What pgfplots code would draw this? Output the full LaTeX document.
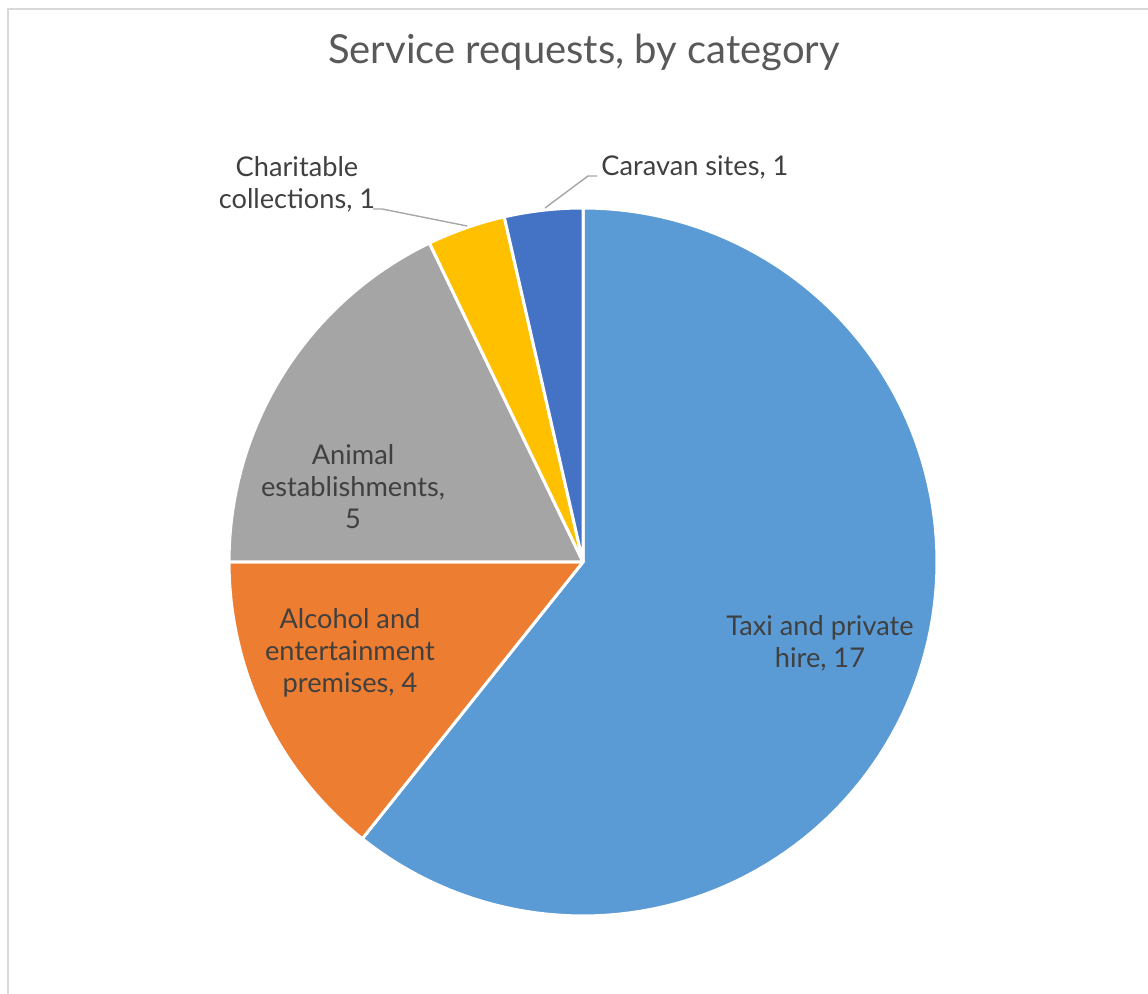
\documentclass[border=0pt]{standalone}
\usepackage{pgfplots}
\pgfplotsset{compat=1.18}
\usepackage{fontspec}
\setmainfont{Lato}
\newfontfamily\labfont{Lato}
\definecolor{cTaxi}{HTML}{5B9BD5}
\definecolor{cAlc}{HTML}{ED7D31}
\definecolor{cAni}{HTML}{A5A5A5}
\definecolor{cCha}{HTML}{FFC000}
\definecolor{cCar}{HTML}{4472C4}
\definecolor{cTitle}{HTML}{595959}
\definecolor{cLab}{HTML}{404040}
\definecolor{cFrame}{HTML}{D9D9D9}
\definecolor{cLead}{HTML}{A6A6A6}
% data
\def\vTaxi{17}
\def\vAlc{4}
\def\vAni{5}
\def\vCha{1}
\def\vCar{1}
\pgfmathsetmacro{\tot}{\vTaxi+\vAlc+\vAni+\vCha+\vCar}
\pgfmathsetmacro{\aA}{90}
\pgfmathsetmacro{\aB}{\aA-360*\vTaxi/\tot}
\pgfmathsetmacro{\aC}{\aB-360*\vAlc/\tot}
\pgfmathsetmacro{\aD}{\aC-360*\vAni/\tot}
\pgfmathsetmacro{\aE}{\aD-360*\vCha/\tot}
\pgfmathsetmacro{\aF}{\aE-360*\vCar/\tot}
\tikzset{lab/.style={text=cLab, font=\labfont\fontsize{13.6}{16}\selectfont, align=center, inner sep=0pt}}
\begin{document}%
\begin{tikzpicture}
\begin{axis}[
  scale only axis, width=574pt, height=497pt,
  xmin=0, xmax=1148, ymin=0, ymax=994,
  hide axis, clip=false,
]
\coordinate (bl) at (axis cs:0,0);
\coordinate (tr) at (axis cs:1148,994);
% frame
\addplot[cFrame, line width=1pt] coordinates {(8,0) (8,985) (1148,985)};
% slices
\addplot[fill=cTaxi, draw=white, line width=1.5pt, line join=round, domain=\aB:\aA, samples=120, variable=\t]
  ({583+354*cos(\t)},{432+354*sin(\t)}) -- (583,432) -- cycle;
\addplot[fill=cAlc, draw=white, line width=1.5pt, line join=round, domain=\aC:\aB, samples=40, variable=\t]
  ({583+354*cos(\t)},{432+354*sin(\t)}) -- (583,432) -- cycle;
\addplot[fill=cAni, draw=white, line width=1.5pt, line join=round, domain=\aD:\aC, samples=40, variable=\t]
  ({583+354*cos(\t)},{432+354*sin(\t)}) -- (583,432) -- cycle;
\addplot[fill=cCha, draw=white, line width=1.5pt, line join=round, domain=\aE:\aD, samples=20, variable=\t]
  ({583+354*cos(\t)},{432+354*sin(\t)}) -- (583,432) -- cycle;
\addplot[fill=cCar, draw=white, line width=1.5pt, line join=round, domain=\aF:\aE, samples=20, variable=\t]
  ({583+354*cos(\t)},{432+354*sin(\t)}) -- (583,432) -- cycle;
% leader lines
\addplot[cLead, line width=0.7pt] coordinates {(373,785) (382,785) (467,768)};
\addplot[cLead, line width=0.7pt] coordinates {(545,786) (588,818) (597,818)};
% title
\node[text=cTitle, font=\fontsize{20}{22}\selectfont] at (axis cs:584,942) {Service requests, by category};
% labels
\node[lab] at (axis cs:820,351) {Taxi and private\\hire, 17};
\node[lab] at (axis cs:350,341) {Alcohol and\\entertainment\\premises, 4};
\node[lab] at (axis cs:353,507) {Animal\\establishments,\\5};
\node[lab] at (axis cs:297,810) {Charitable\\collections, 1};
\node[lab, anchor=west] at (axis cs:601,827) {Caravan sites, 1};
\end{axis}
\pgfresetboundingbox
\path (bl) rectangle (tr);
\end{tikzpicture}%
\end{document}
